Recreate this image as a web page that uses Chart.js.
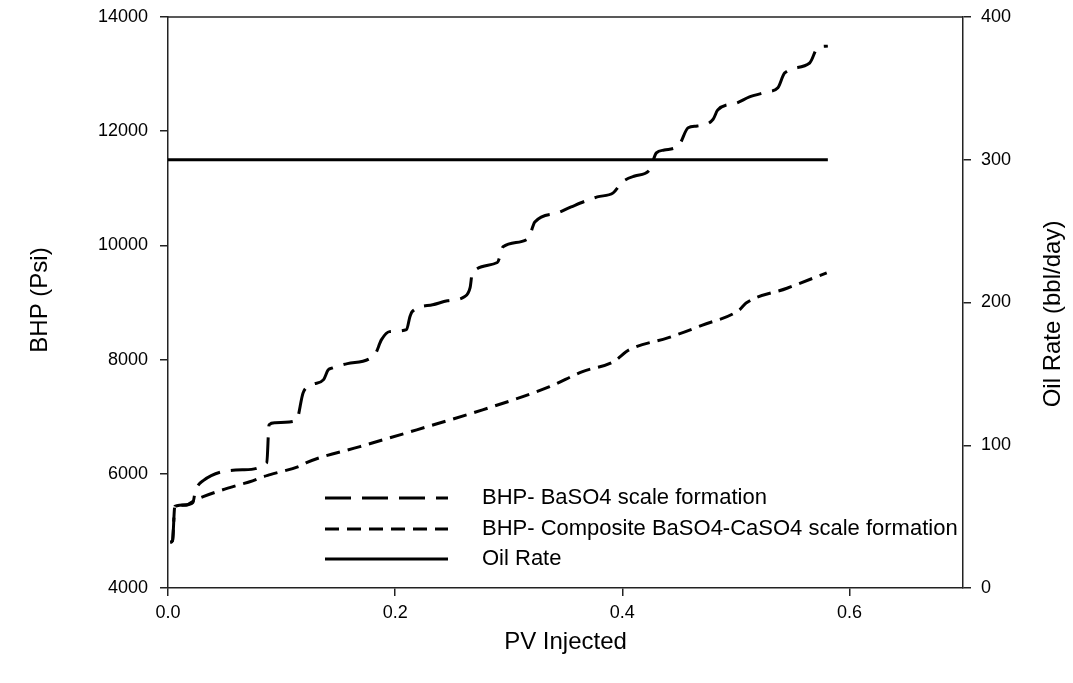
<!DOCTYPE html>
<html>
<head>
<meta charset="utf-8">
<title>BHP vs PV Injected</title>
<script src="https://cdn.jsdelivr.net/npm/chart.js@4.4.0/dist/chart.umd.min.js"></script>
<style>
  body { margin: 0; background: #fff; }
  canvas { display: block; }
</style>
</head>
<body>
<canvas id="chart" width="1073" height="683"></canvas>
<script>
// --- data ---
var pvBa = [0.002, 0.004, 0.006, 0.016, 0.022, 0.024, 0.031, 0.066, 0.087, 0.089, 0.094, 0.113,
  0.119, 0.127, 0.137, 0.141, 0.145, 0.158, 0.182, 0.188, 0.195, 0.210, 0.213, 0.215, 0.233,
  0.246, 0.261, 0.266, 0.268, 0.290, 0.295, 0.317, 0.323, 0.343, 0.355, 0.378, 0.392, 0.400,
  0.411, 0.424, 0.430, 0.437, 0.450, 0.458, 0.466, 0.480, 0.484, 0.501, 0.512, 0.528, 0.537,
  0.543, 0.565, 0.572, 0.581];
var bhpBa = [4800, 4830, 5430, 5460, 5500, 5690, 5880, 6070, 6195, 6860, 6895, 6930,
  7420, 7560, 7650, 7820, 7855, 7930, 8085, 8350, 8490, 8525, 8750, 8840, 8960,
  9030, 9100, 9260, 9520, 9700, 9975, 10115, 10410, 10570, 10675, 10850, 10920, 11110,
  11215, 11320, 11620, 11670, 11760, 12060, 12090, 12210, 12370, 12495, 12600, 12690, 12760,
  13020, 13195, 13460, 13490];

var pvComp = [0.002, 0.004, 0.006, 0.016, 0.022, 0.031, 0.063, 0.072, 0.084, 0.090, 0.119,
  0.122, 0.169, 0.219, 0.277, 0.336, 0.365, 0.392, 0.406, 0.440, 0.470, 0.503, 0.509, 0.545, 0.580];
var bhpComp = [4800, 4830, 5430, 5450, 5520, 5600, 5810, 5860, 5950, 5985, 6160,
  6195, 6475, 6770, 7120, 7525, 7790, 7960, 8170, 8380, 8600, 8870, 8990, 9250, 9520];

var pvOil = [0.0, 0.581];
var oilRate = [300, 300];

var seriesLabels = ["BHP- BaSO4 scale formation",
  "BHP- Composite BaSO4-CaSO4 scale formation",
  "Oil Rate"];

var xTicks = [0.0, 0.2, 0.4, 0.6];
var bhpTicks = [4000, 6000, 8000, 10000, 12000, 14000];
var oilTicks = [0, 100, 200, 300, 400];

var xTitle = "PV Injected";
var yTitle = "BHP (Psi)";
var y1Title = "Oil Rate (bbl/day)";

// --- helpers ---
function pts(xs, ys) {
  return xs.map(function (x, i) { return { x: x, y: ys[i] }; });
}
function fixTicks(vals) {
  return function (scale) { scale.ticks = vals.map(function (v) { return { value: v }; }); };
}
function fitWidth(w) {
  return function (s) { s.width = w; s.paddingTop = 0; s.paddingBottom = 0; };
}

var FONT = "'Liberation Sans', Arial, sans-serif";
var dashes = [[26, 11], [14, 8], []];

// draws the frame top, the in-plot legend and the axis titles
var decor = {
  id: 'decor',
  afterDraw: function (chart) {
    var ctx = chart.ctx, a = chart.chartArea;
    ctx.save();
    ctx.strokeStyle = '#222';
    ctx.lineWidth = 1.5;
    ctx.beginPath();
    ctx.moveTo(a.left, a.top);
    ctx.lineTo(a.right, a.top);
    ctx.stroke();

    // legend
    ctx.font = '22px ' + FONT;
    ctx.fillStyle = '#000';
    ctx.textBaseline = 'middle';
    ctx.textAlign = 'left';
    var rows = [498, 529, 559];
    chart.data.datasets.forEach(function (ds, i) {
      ctx.strokeStyle = '#000';
      ctx.lineWidth = 3;
      ctx.setLineDash(dashes[i]);
      ctx.beginPath();
      ctx.moveTo(325, rows[i]);
      ctx.lineTo(448, rows[i]);
      ctx.stroke();
      ctx.setLineDash([]);
      ctx.fillText(ds.label, 482, rows[i]);
    });

    // axis titles
    ctx.font = '24px ' + FONT;
    ctx.textAlign = 'center';
    ctx.fillText(xTitle, (a.left + a.right) / 2, 642);
    ctx.save();
    ctx.translate(40, 300);
    ctx.rotate(-Math.PI / 2);
    ctx.fillText(yTitle, 0, 0);
    ctx.restore();
    ctx.save();
    ctx.translate(1053, 314);
    ctx.rotate(-Math.PI / 2);
    ctx.fillText(y1Title, 0, 0);
    ctx.restore();
    ctx.restore();
  }
};

var tickFont = { family: FONT, size: 18 };
function plain(v) { return String(v); }

new Chart(document.getElementById('chart').getContext('2d'), {
  type: 'line',
  data: {
    datasets: [{
      label: seriesLabels[0],
      data: pts(pvBa, bhpBa),
      yAxisID: 'y',
      borderColor: '#000',
      borderWidth: 3,
      borderDash: dashes[0],
      pointRadius: 0,
      cubicInterpolationMode: 'monotone'
    }, {
      label: seriesLabels[1],
      data: pts(pvComp, bhpComp),
      yAxisID: 'y',
      borderColor: '#000',
      borderWidth: 3,
      borderDash: dashes[1],
      pointRadius: 0,
      cubicInterpolationMode: 'monotone'
    }, {
      label: seriesLabels[2],
      data: pts(pvOil, oilRate),
      yAxisID: 'y1',
      borderColor: '#000',
      borderWidth: 3,
      pointRadius: 0
    }]
  },
  options: {
    responsive: false,
    animation: false,
    layout: { padding: { top: 17, bottom: 0, left: 0, right: 0 } },
    plugins: { legend: { display: false }, tooltip: { enabled: false } },
    scales: {
      x: {
        type: 'linear', min: 0, max: 0.7,
        afterBuildTicks: fixTicks(xTicks),
        afterFit: function (s) { s.height = 95; s.paddingLeft = 0; s.paddingRight = 0; },
        grid: { drawOnChartArea: false, tickLength: 8, color: '#222', lineWidth: 1.5 },
        border: { color: '#222', width: 1.5 },
        ticks: { color: '#000', font: tickFont, padding: 6,
          callback: function (v) { return v.toFixed(1); } }
      },
      y: {
        type: 'linear', position: 'left', min: 4000, max: 14000,
        afterBuildTicks: fixTicks(bhpTicks),
        afterFit: fitWidth(168),
        grid: { drawOnChartArea: false, tickLength: 8, color: '#222', lineWidth: 1.5 },
        border: { color: '#222', width: 1.5 },
        ticks: { color: '#000', font: tickFont, padding: 12, callback: plain }
      },
      y1: {
        type: 'linear', position: 'right', min: 0, max: 400,
        afterBuildTicks: fixTicks(oilTicks),
        afterFit: fitWidth(110),
        grid: { drawOnChartArea: false, tickLength: 8, color: '#222', lineWidth: 1.5 },
        border: { color: '#222', width: 1.5 },
        ticks: { color: '#000', font: tickFont, padding: 10, callback: plain }
      }
    }
  },
  plugins: [decor]
});
</script>
</body>
</html>
